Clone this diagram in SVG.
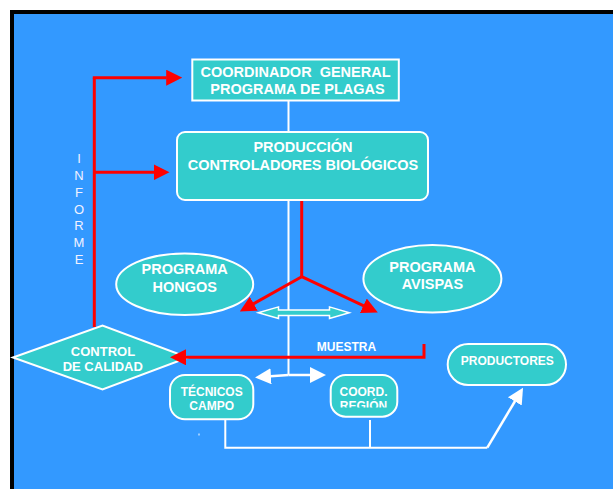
<svg xmlns="http://www.w3.org/2000/svg" width="613" height="489" viewBox="0 0 613 489">
  <style>
    .box { fill: #33CCCC; stroke: #FFFFFF; stroke-width: 2; }
    .t { font-family: "Liberation Sans", Arial, sans-serif; font-weight: bold; fill: #FFFFFF; text-anchor: middle; white-space: pre; }
    .t145 { font-size: 14.5px; }
    .t13 { font-size: 13px; }
    .t12 { font-size: 12px; }
    .inf { font-family: "Liberation Sans", Arial, sans-serif; font-size: 13px; fill: #F2F2FF; text-anchor: middle; }
    .red { fill: none; stroke: #FF0000; stroke-width: 3; marker-end: url(#redHead); }
    .redplain { fill: none; stroke: #FF0000; stroke-width: 3; }
    .wht { fill: none; stroke: #FFFFFF; stroke-width: 2; }
    .whtA { fill: none; stroke: #FFFFFF; stroke-width: 2.5; marker-end: url(#whiteHead); }
  </style>
  <defs>
    <marker id="redHead" markerUnits="userSpaceOnUse" markerWidth="16" markerHeight="16" viewBox="0 0 16 16" refX="0.5" refY="8" orient="auto">
      <path d="M0,0 L16,8 L0,16 Z" fill="#FF0000"/>
    </marker>
    <marker id="whiteHead" markerUnits="userSpaceOnUse" markerWidth="16" markerHeight="16" viewBox="0 0 16 16" refX="0.5" refY="8" orient="auto">
      <path d="M0,0 L16,8 L0,16 Z" fill="#FFFFFF"/>
    </marker>
    <clipPath id="regionClip">
      <rect x="330" y="396" width="70" height="11.5"/>
    </clipPath>
  </defs>

  <rect x="0" y="0" width="613" height="489" fill="#FFFFFF"/>
  <rect x="12" y="12" width="640" height="520" fill="#3399FF" stroke="#000000" stroke-width="4"/>

  <g id="informe-label">
    <text class="inf" x="79" y="163">I</text>
    <text class="inf" x="79" y="179.9">N</text>
    <text class="inf" x="79" y="196.7">F</text>
    <text class="inf" x="79" y="213.6">O</text>
    <text class="inf" x="79" y="230.4">R</text>
    <text class="inf" x="79" y="247.3">M</text>
    <text class="inf" x="79" y="264.1">E</text>
  </g>

  <g id="coordinador">
    <rect class="box" x="192.3" y="59.5" width="206.5" height="41"/>
    <text class="t t145" x="295.5" y="77.3" xml:space="preserve">COORDINADOR  GENERAL</text>
    <text class="t t145" x="297.5" y="94.3">PROGRAMA DE PLAGAS</text>
  </g>

  <g id="produccion">
    <rect class="box" x="177" y="132" width="251" height="68" rx="8" ry="8"/>
    <text class="t t145" x="303" y="151.7">PRODUCCIÓN</text>
    <text class="t t145" x="303" y="170">CONTROLADORES BIOLÓGICOS</text>
  </g>

  <g id="hongos">
    <ellipse class="box" cx="184.7" cy="284.2" rx="68.5" ry="30.8"/>
    <text class="t t145" x="184.7" y="274.3">PROGRAMA</text>
    <text class="t t145" x="184.7" y="291.7">HONGOS</text>
  </g>

  <g id="avispas">
    <ellipse class="box" cx="432.4" cy="278.8" rx="69" ry="33.8"/>
    <text class="t t145" x="432.4" y="272.3">PROGRAMA</text>
    <text class="t t145" x="432.4" y="289.3">AVISPAS</text>
  </g>

  <g id="control-calidad">
    <polygon class="box" points="13,357.5 102.5,325.5 188,357.5 102.5,389.5"/>
    <text class="t t13" x="103" y="355.7">CONTROL</text>
    <text class="t t13" x="102.8" y="370.7">DE CALIDAD</text>
  </g>

  <g id="tecnicos">
    <rect class="box" x="170" y="375" width="83.3" height="44.3" rx="15" ry="15"/>
    <text class="t t12" x="211.7" y="396">TÉCNICOS</text>
    <text class="t t12" x="211.7" y="409.5">CAMPO</text>
  </g>

  <g id="coord-region">
    <rect class="box" x="330.7" y="375" width="66.6" height="41.7" rx="15" ry="15"/>
    <text class="t t12" x="363.5" y="396">COORD.</text>
    <text class="t t12" x="363.5" y="409.5" clip-path="url(#regionClip)">REGIÓN</text>
  </g>

  <g id="productores">
    <rect class="box" x="447.7" y="344" width="118.3" height="41" rx="20.5" ry="20.5"/>
    <text class="t t12" x="507.3" y="365">PRODUCTORES</text>
  </g>

  <g id="connectors">
    <path class="wht" d="M288.5,101 V131"/>
    <path class="wht" d="M288.5,201 V375"/>
    <path class="whtA" d="M288.5,375 L270.5,376.3"/>
    <path class="whtA" d="M288.5,375 H310.5"/>
    <path class="wht" d="M225.3,420 V447.7 H487.3"/>
    <path class="wht" d="M370,420 V447.7"/>
    <path class="whtA" d="M487.3,447.7 L515.1,401"/>
    <rect x="198.5" y="433.5" width="1" height="2" fill="#FFFFFF"/>

    <polygon points="258.3,312.7 278.5,306.9 278.5,310 329.5,310 329.5,306.9 349.3,312.7 329.5,318.5 329.5,315.4 278.5,315.4 278.5,318.5" fill="#33CCCC" stroke="#FFFFFF" stroke-width="1.5"/>

    <path class="redplain" d="M94.3,327 V77.7"/>
    <path class="red" d="M92.8,77.7 H166.7"/>
    <path class="red" d="M94.3,172.3 H154"/>
    <path class="redplain" d="M301.7,201 V276.7"/>
    <path class="red" d="M301.7,276.7 L253.3,303.9"/>
    <path class="red" d="M301.7,276.7 L363.8,305.9"/>
    <path class="red" d="M424,344 V357.3 H185.5"/>
    <text class="t t12" x="346.4" y="351">MUESTRA</text>
  </g>
</svg>
